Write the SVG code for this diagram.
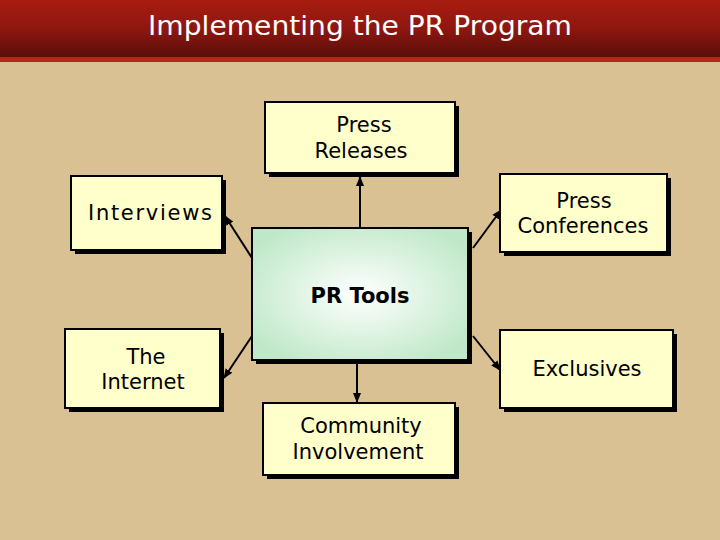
<svg xmlns="http://www.w3.org/2000/svg" width="720" height="540" viewBox="0 0 720 540">
<defs>
<linearGradient id="hd" x1="0" y1="0" x2="0" y2="1"><stop offset="0" stop-color="#A81C10"/><stop offset="0.5" stop-color="#8E1710"/><stop offset="1" stop-color="#5A0E0A"/></linearGradient>
<radialGradient id="cg" cx="0.5" cy="0.5" r="0.6"><stop offset="0" stop-color="#FFFFFF"/><stop offset="1" stop-color="#BFE8C8"/></radialGradient>
<marker id="ah" viewBox="0 0 10 10" refX="9" refY="5" markerWidth="5" markerHeight="5" orient="auto"><path d="M0,1 L10,5 L0,9 z" fill="#000"/></marker>
</defs>
<style>
.box{fill:#FFFFCC;stroke:#000;stroke-width:2}
.sh{fill:#000}
.t{font-family:"DejaVu Sans",sans-serif;font-size:21px;fill:#000;text-anchor:middle}
.c{stroke:#000;stroke-width:2;fill:none;marker-end:url(#ah)}
</style>
<rect width="720" height="540" fill="#D9C193"/>
<rect width="720" height="57" fill="url(#hd)"/>
<rect y="57" width="720" height="5" fill="#B8261A"/>
<text x="360" y="35" font-family="DejaVu Sans, sans-serif" font-size="27" fill="#fff" text-anchor="middle" textLength="424" lengthAdjust="spacingAndGlyphs">Implementing the PR Program</text>
<g id="connectors">
<line class="c" x1="360" y1="228" x2="360" y2="177"/>
<line class="c" x1="357" y1="360" x2="357" y2="402"/>
<line class="c" x1="252" y1="258" x2="225" y2="216"/>
<line class="c" x1="473" y1="248" x2="501" y2="210"/>
<line class="c" x1="252" y1="336" x2="224" y2="378"/>
<line class="c" x1="473" y1="336" x2="500" y2="370"/>
</g>
<g id="center"><rect class="sh" x="256" y="232" width="216" height="132"/><rect x="252" y="228" width="216" height="132" fill="url(#cg)" stroke="#000" stroke-width="2"/><text class="t" x="360" y="303" font-weight="bold" font-size="25">PR Tools</text></g>
<g id="press-releases"><rect class="sh" x="269" y="106" width="190" height="71"/><rect class="box" x="265" y="102" width="190" height="71"/><text class="t" x="364" y="132">Press</text><text class="t" x="361" y="158">Releases</text></g>
<g id="interviews"><rect class="sh" x="75" y="180" width="151" height="74"/><rect class="box" x="71" y="176" width="151" height="74"/><text class="t" x="150" y="220" textLength="124">Interviews</text></g>
<g id="press-conferences"><rect class="sh" x="504" y="178" width="167" height="78"/><rect class="box" x="500" y="174" width="167" height="78"/><text class="t" x="584" y="208">Press</text><text class="t" x="583" y="233">Conferences</text></g>
<g id="internet"><rect class="sh" x="69" y="333" width="155" height="79"/><rect class="box" x="65" y="329" width="155" height="79"/><text class="t" x="146" y="364">The</text><text class="t" x="143" y="389">Internet</text></g>
<g id="exclusives"><rect class="sh" x="504" y="334" width="173" height="78"/><rect class="box" x="500" y="330" width="173" height="78"/><text class="t" x="587" y="376">Exclusives</text></g>
<g id="community"><rect class="sh" x="267" y="407" width="192" height="72"/><rect class="box" x="263" y="403" width="192" height="72"/><text class="t" x="361" y="433">Community</text><text class="t" x="358" y="459">Involvement</text></g>
</svg>
